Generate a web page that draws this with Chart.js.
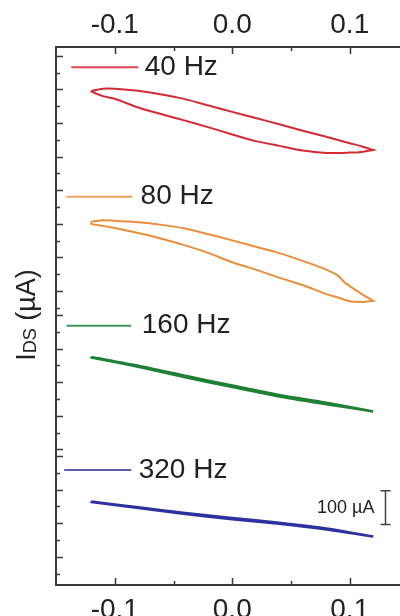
<!DOCTYPE html>
<html>
<head>
<meta charset="utf-8">
<script src="https://cdn.jsdelivr.net/npm/chart.js@4.4.1/dist/chart.umd.min.js"></script>
<style>
  html, body { margin: 0; padding: 0; background: #fff; overflow: hidden; }
  #wrap { width: 420px; height: 640px; }
</style>
</head>
<body>
<div id="wrap"><canvas id="chart" width="420" height="640"></canvas></div>
<script>
// gate voltage sweep (V) and drain current (uA, traces offset for each frequency)
const redX = [-0.12, -0.11, -0.10, -0.08, -0.06, -0.04, -0.02, 0, 0.02, 0.04, 0.06, 0.08, 0.10, 0.11, 0.12];
const redUp = [1469, 1476, 1476, 1470, 1459, 1445, 1426, 1407, 1389, 1370, 1351, 1333, 1314, 1305, 1294];
const redDown = [1468, 1454, 1446, 1420, 1400, 1381, 1361, 1340, 1320, 1306, 1292, 1285, 1286, 1288, 1294];

const orangeUpX = [-0.12, -0.11, -0.10, -0.08, -0.06, -0.04, -0.02, 0, 0.02, 0.04, 0.06, 0.08, 0.09, 0.095, 0.10, 0.11, 0.12];
const orangeUp = [1080, 1085, 1083, 1079, 1071, 1060, 1043, 1025, 1006, 987, 964, 938, 920, 902, 889, 866, 845];
const orangeDownX = [-0.12, -0.11, -0.10, -0.08, -0.06, -0.04, -0.02, 0, 0.02, 0.04, 0.06, 0.08, 0.09, 0.10, 0.11, 0.12];
const orangeDown = [1074, 1068, 1062, 1047, 1030, 1010, 987, 960, 938, 914, 892, 865, 855, 844, 842, 845];

const lineX = [-0.12, -0.08, -0.04, 0, 0.04, 0.08, 0.12];
const greenUp = [678, 652, 622, 593, 565, 542, 516];
const greenDown = [677, 649, 618, 589, 561, 538, 516];
const blueUp = [248, 231, 214, 199, 185, 168, 144];
const blueDown = [247, 229, 211, 196, 182, 165, 144];

// legend entries (drawn inside the plot)
const legendLabels = ['40 Hz', '80 Hz', '160 Hz', '320 Hz'];
const legendY = [1540, 1155, 771, 342];
const legendLineFrom = [-0.137, -0.141, -0.141, -0.143];
const legendLineTo = [-0.080, -0.085, -0.086, -0.086];
const legendTextX = [-0.0745, -0.078, -0.077, -0.0796];

// axis ticks
const xTickValues = [-0.1, 0, 0.1];
const xMinorTicks = [-0.05, 0.05];
const yTickStarts = [1574, 803, 384];   // each stacked trace has its own tick run
const yTickCounts = [16, 9, 8];

// 100 uA scale bar
const scaleBarX = 0.13;
const scaleBarY = [180, 280];
const scaleBarLabel = '100 µA';

const colors = ['#d42a35', '#e98f3c', '#1f8035', '#2d32a0'];
const legendColors = ['#e0464e', '#eea25e', '#3c9656', '#5b5bb2'];
const FONT = "'Liberation Sans', Arial, sans-serif";
const INK = '#222';
const AXIS = '#3a3a3a';

function loop(upX, up, downX, down) {
  const pts = upX.map((x, i) => ({x: x, y: up[i]}));
  for (let i = downX.length - 1; i >= 0; i--) pts.push({x: downX[i], y: down[i]});
  pts.push(pts[0]);
  return pts;
}

const traces = [
  loop(redX, redUp, redX, redDown),
  loop(orangeUpX, orangeUp, orangeDownX, orangeDown),
  loop(lineX, greenUp, lineX, greenDown),
  loop(lineX, blueUp, lineX, blueDown)
];
const widths = [2, 2, 2.6, 2.6];

const datasets = traces.map((pts, i) => ({
  data: pts,
  borderColor: colors[i],
  borderWidth: widths[i],
  tension: 0.25,
  pointRadius: 0,
  showLine: true,
  fill: false
}));
legendLabels.forEach((lab, i) => {
  datasets.push({
    data: [{x: legendLineFrom[i], y: legendY[i]}, {x: legendLineTo[i], y: legendY[i]}],
    borderColor: legendColors[i],
    borderWidth: 2,
    pointRadius: 0,
    showLine: true,
    fill: false
  });
});

// inner ticks, legend text, scale bar and the y title with subscript
const extras = {
  id: 'extras',
  afterDraw(chart) {
    const ctx = chart.ctx;
    const xs = chart.scales.x, ys = chart.scales.y;
    const a = chart.chartArea;
    ctx.save();
    ctx.strokeStyle = AXIS;
    ctx.lineWidth = 1.5;
    ctx.beginPath();
    yTickStarts.forEach((start, g) => {
      for (let k = 0; k < yTickCounts[g]; k++) {
        const py = Math.round(ys.getPixelForValue(start - 50 * k)) + 0.5;
        const len = k % 2 === 0 ? 7 : 4;
        ctx.moveTo(a.left, py);
        ctx.lineTo(a.left + len, py);
      }
    });
    xTickValues.concat(xMinorTicks).forEach(v => {
      const px = Math.round(xs.getPixelForValue(v)) + 0.5;
      const len = xTickValues.includes(v) ? 7 : 4;
      ctx.moveTo(px, a.top);
      ctx.lineTo(px, a.top + len);
      ctx.moveTo(px, a.bottom);
      ctx.lineTo(px, a.bottom - len);
    });
    ctx.stroke();

    // legend labels
    ctx.fillStyle = INK;
    ctx.font = '28px ' + FONT;
    ctx.textAlign = 'left';
    ctx.textBaseline = 'middle';
    legendLabels.forEach((lab, i) => {
      ctx.fillText(lab, xs.getPixelForValue(legendTextX[i]), ys.getPixelForValue(legendY[i]));
    });

    // scale bar
    const bx = Math.round(xs.getPixelForValue(scaleBarX)) + 0.5;
    const b0 = ys.getPixelForValue(scaleBarY[0]);
    const b1 = ys.getPixelForValue(scaleBarY[1]);
    ctx.strokeStyle = '#444';
    ctx.lineWidth = 1.5;
    ctx.beginPath();
    ctx.moveTo(bx, b0); ctx.lineTo(bx, b1);
    ctx.moveTo(bx - 5, b0); ctx.lineTo(bx + 5, b0);
    ctx.moveTo(bx - 5, b1); ctx.lineTo(bx + 5, b1);
    ctx.stroke();
    ctx.font = '18px ' + FONT;
    ctx.textAlign = 'right';
    ctx.fillText(scaleBarLabel, bx - 11, (b0 + b1) / 2);

    // y title: I_DS (µA)
    ctx.translate(35, 315);
    ctx.rotate(-Math.PI / 2);
    ctx.textAlign = 'left';
    ctx.textBaseline = 'alphabetic';
    const big = '27px ' + FONT, small = '18px ' + FONT;
    ctx.font = big; const w1 = ctx.measureText('I').width; const w3 = ctx.measureText(' (µA)').width;
    ctx.font = small; const w2 = ctx.measureText('DS').width;
    let x0 = -(w1 + w2 + w3) / 2;
    ctx.font = big; ctx.fillText('I', x0, 0); x0 += w1;
    ctx.font = small; ctx.fillText('DS', x0, 1); x0 += w2;
    ctx.font = big; ctx.fillText(' (µA)', x0, 0);
    ctx.restore();
  }
};

const xTickOpts = (pad) => ({
  callback: v => Number(v).toFixed(1),
  font: {family: FONT, size: 28},
  color: INK,
  padding: pad,
  maxRotation: 0,
  autoSkip: false
});

new Chart(document.getElementById('chart'), {
  type: 'scatter',
  data: {datasets: datasets},
  options: {
    responsive: false,
    animation: false,
    devicePixelRatio: 1,
    layout: {padding: {left: 56, right: 11.5, top: 0, bottom: 0}},
    plugins: {legend: {display: false}, tooltip: {enabled: false}},
    scales: {
      x: {
        type: 'linear', position: 'bottom', min: -0.15, max: 0.15,
        afterBuildTicks: ax => { ax.ticks = xTickValues.map(v => ({value: v})); },
        afterFit: ax => { ax.height = 55; },
        ticks: xTickOpts(8),
        grid: {display: false, drawTicks: false},
        border: {display: true, color: AXIS, width: 2}
      },
      x2: {
        type: 'linear', position: 'top', min: -0.15, max: 0.15,
        afterBuildTicks: ax => { ax.ticks = xTickValues.map(v => ({value: v})); },
        afterFit: ax => { ax.height = 47; },
        ticks: xTickOpts(5),
        grid: {display: false, drawTicks: false},
        border: {display: true, color: AXIS, width: 2}
      },
      y: {
        type: 'linear', min: 0, max: 1600,
        afterFit: ax => { ax.width = 0; },
        ticks: {display: false},
        grid: {display: false, drawTicks: false},
        border: {display: true, color: AXIS, width: 2}
      }
    }
  },
  plugins: [extras]
});
</script>
</body>
</html>
